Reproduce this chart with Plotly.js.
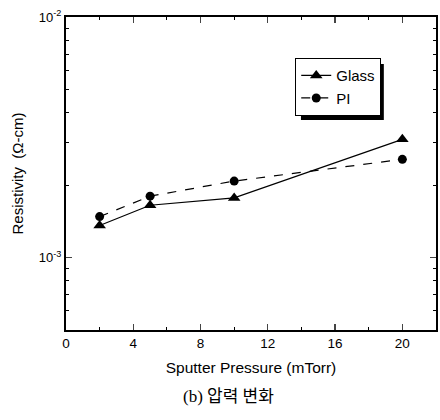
<!DOCTYPE html>
<html><head><meta charset="utf-8">
<script src="https://cdn.plot.ly/plotly-3.0.1.min.js"></script>
<style>html,body{margin:0;padding:0;background:#fff}</style>
</head><body>
<div id="chart" style="width:440px;height:420px"></div>
<script>
const pressure = [2, 5, 10, 20];
const glass = [1.36e-3, 1.65e-3, 1.77e-3, 3.1e-3];
const pi = [1.48e-3, 1.80e-3, 2.08e-3, 2.56e-3];
const xTicks = [0, 4, 8, 12, 16, 20];
const yTickVals = [1e-3, 1e-2];
const yTickText = ["10<sup>-3</sup>", "10<sup>-2</sup>"];
const yMinor = [6e-4, 7e-4, 8e-4, 9e-4, 2e-3, 3e-3, 4e-3, 5e-3, 6e-3, 7e-3, 8e-3, 9e-3];
const xMinor = [2, 6, 10, 14, 18];

const font = "Liberation Sans, Arial, sans-serif";
const traces = [
  {x: pressure, y: glass, name: "Glass", mode: "lines+markers",
   line: {color: "#000", width: 1.2, dash: "solid"},
   marker: {symbol: "triangle-up", size: 11, color: "#000"}},
  {x: pressure, y: pi, name: "PI", mode: "lines+markers",
   line: {color: "#000", width: 1.2, dash: "dash"},
   marker: {symbol: "circle", size: 9, color: "#000"}}
];
const layout = {
  width: 440, height: 420,
  margin: {l: 66, r: 4, t: 17, b: 90},
  paper_bgcolor: "#fff", plot_bgcolor: "#fff",
  font: {family: font, color: "#000", size: 13},
  showlegend: true,
  legend: {x: 0.619, y: 0.869, xanchor: "left", yanchor: "top",
    bordercolor: "#000", borderwidth: 1.2, bgcolor: "#fff",
    font: {family: font, size: 15}, tracegroupgap: 0, itemwidth: 30},
  xaxis: {range: [0, 22], tickvals: xTicks, ticks: "inside", ticklen: 6, tickwidth: 1.2,
    showline: true, linewidth: 2, linecolor: "#000", mirror: "ticks", showgrid: false, zeroline: false,
    minor: {tickvals: xMinor, ticks: "inside", ticklen: 3, tickwidth: 1, tickcolor: "#000"},
    tickfont: {size: 13.5, family: font},
    title: {text: "Sputter Pressure (mTorr)", font: {size: 15.5, family: font}, standoff: 12}},
  yaxis: {type: "log", range: [Math.log10(5e-4), -2], tickmode: "array", tickvals: yTickVals, ticktext: yTickText,
    ticks: "inside", ticklen: 6, tickwidth: 1.2,
    showline: true, linewidth: 2, linecolor: "#000", mirror: "ticks", showgrid: false, zeroline: false,
    minor: {tickvals: yMinor, ticks: "inside", ticklen: 3, tickwidth: 1, tickcolor: "#000"},
    tickfont: {size: 13, family: font},
    title: {text: "Resistivity  (\u03A9-cm)", font: {size: 15, family: font}, standoff: 12}},
  shapes: [
    {type: "rect", xref: "paper", yref: "paper", x0: 0.635, x1: 0.859, y0: 0.671, y1: 0.85,
     fillcolor: "#000", line: {width: 0}, layer: "below"}
  ],
  annotations: [
    {text: "(b) 압력 변화", xref: "paper", yref: "paper", x: 0.44, y: -0.212,
     xanchor: "center", yanchor: "middle", showarrow: false,
     font: {family: "Liberation Serif, Noto Sans CJK KR, serif", size: 17, color: "#000"}}
  ]
};
Plotly.newPlot("chart", traces, layout, {displayModeBar: false, staticPlot: true});
</script>
</body></html>
